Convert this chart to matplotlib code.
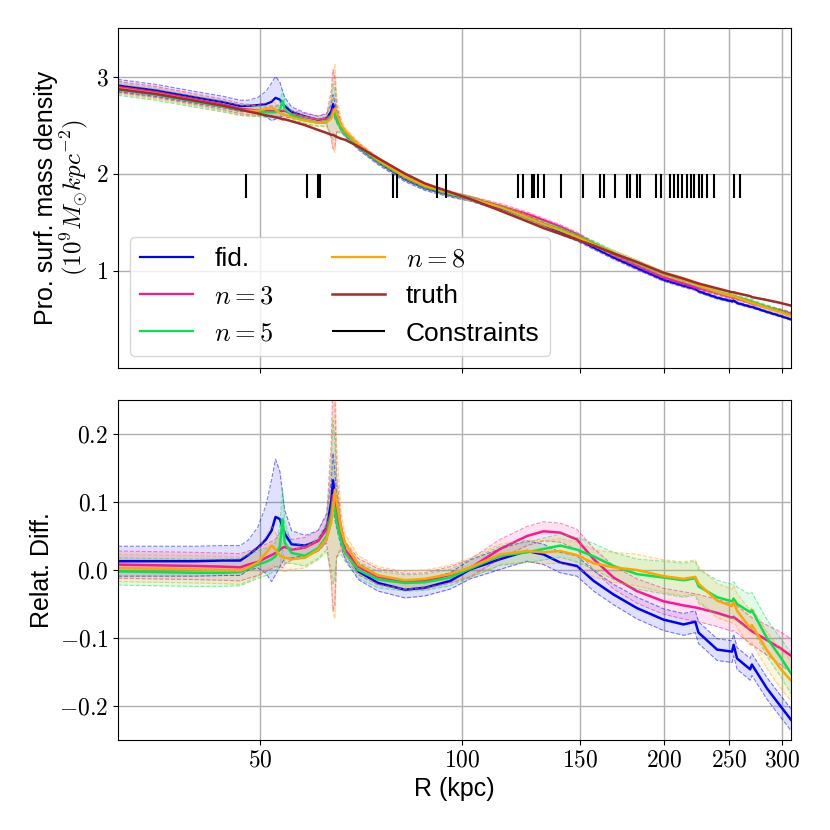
import numpy as np
import matplotlib
matplotlib.use("Agg")
import matplotlib.pyplot as plt
from matplotlib.ticker import FixedLocator, FixedFormatter, NullLocator

plt.rcParams['font.family'] = ['Liberation Sans', 'DejaVu Sans']
plt.rcParams['mathtext.fontset'] = 'cm'

# radii (kpc) where the curves are sampled
r = np.array([30.7, 35, 40, 44, 46.7, 48, 49.6, 51, 52, 52.7, 53.5, 54.0, 54.4, 55.7, 58.3,
              61.0, 62.8, 63.8, 64.2, 64.6, 65.0, 66.0, 66.9, 70.0, 74.9, 82.2, 88.0, 96.0,
              102.8, 113.9, 124.9, 132.2, 140.0, 148.2, 157.0, 168.1, 182.2, 199.6, 213.7,
              222.5, 225.0, 239.8, 252.4, 253.8, 256.8, 268.6, 270.2, 284.5, 298, 310])

# true projected surface density (1e9 Msun / kpc^2)
truth = np.array([2.87, 2.82, 2.75, 2.70, 2.66, 2.64, 2.62, 2.60, 2.59, 2.58, 2.57, 2.56, 2.56,
                  2.54, 2.50, 2.45, 2.42, 2.40, 2.40, 2.39, 2.38, 2.36, 2.35, 2.28, 2.16, 2.00,
                  1.90, 1.81, 1.74, 1.62, 1.51, 1.44, 1.38, 1.32, 1.26, 1.18, 1.09, 0.98, 0.92,
                  0.88, 0.87, 0.82, 0.78, 0.78, 0.77, 0.74, 0.73, 0.70, 0.67, 0.64])

# relative differences to truth
diff_fid = np.array([0.013, 0.013, 0.013, 0.014, 0.014, 0.022, 0.033, 0.045, 0.058, 0.078, 0.075,
                     0.062, 0.053, 0.038, 0.036, 0.043, 0.063, 0.100, 0.132, 0.110, 0.087, 0.050,
                     0.028, -0.002, -0.019, -0.029, -0.026, -0.016, 0.001, 0.016, 0.028, 0.023,
                     0.011, 0.006, -0.016, -0.036, -0.056, -0.073, -0.080, -0.076, -0.092, -0.117,
                     -0.120, -0.110, -0.130, -0.146, -0.139, -0.174, -0.200, -0.222])
diff_n3 = np.array([0.008, 0.007, 0.006, 0.005, 0.004, 0.008, 0.012, 0.018, 0.022, 0.025, 0.030,
                    0.033, 0.034, 0.030, 0.033, 0.043, 0.060, 0.085, 0.110, 0.100, 0.080, 0.050,
                    0.030, 0.005, -0.010, -0.017, -0.016, -0.007, 0.003, 0.031, 0.050, 0.057,
                    0.055, 0.045, 0.016, -0.011, -0.031, -0.046, -0.052, -0.055, -0.056, -0.063,
                    -0.070, -0.069, -0.073, -0.088, -0.090, -0.103, -0.115, -0.127])
diff_n5 = np.array([-0.002, -0.003, -0.004, -0.004, -0.003, 0.002, 0.008, 0.012, 0.016, 0.020,
                    0.035, 0.075, 0.040, 0.025, 0.021, 0.032, 0.050, 0.080, 0.100, 0.090, 0.070,
                    0.043, 0.025, 0.000, -0.014, -0.019, -0.018, -0.011, 0.002, 0.021, 0.026,
                    0.031, 0.036, 0.030, 0.020, 0.006, -0.006, -0.011, -0.015, -0.012, -0.024,
                    -0.040, -0.046, -0.042, -0.050, -0.062, -0.059, -0.100, -0.128, -0.154])
diff_n8 = np.array([0.003, 0.002, 0.001, 0.000, -0.001, 0.004, 0.011, 0.025, 0.036, 0.030, 0.021,
                    0.019, 0.018, 0.016, 0.018, 0.030, 0.046, 0.070, 0.090, 0.118, 0.100, 0.060,
                    0.040, 0.008, -0.008, -0.015, -0.013, -0.006, 0.004, 0.023, 0.028, 0.026,
                    0.028, 0.022, 0.010, 0.004, 0.000, -0.009, -0.013, -0.010, -0.020, -0.045,
                    -0.053, -0.047, -0.060, -0.085, -0.081, -0.118, -0.145, -0.164])

# half widths of the uncertainty bands
err_fid = np.array([0.022, 0.022, 0.022, 0.022, 0.022, 0.022, 0.030, 0.050, 0.075, 0.085, 0.070,
                    0.050, 0.035, 0.020, 0.015, 0.015, 0.020, 0.030, 0.040, 0.035, 0.025, 0.015,
                    0.012, 0.012, 0.012, 0.012, 0.012, 0.012, 0.014, 0.015, 0.015, 0.015, 0.015,
                    0.015, 0.015, 0.015, 0.016, 0.016, 0.016, 0.016, 0.016, 0.016, 0.016, 0.016,
                    0.016, 0.016, 0.016, 0.016, 0.016, 0.016])
err_n3 = np.array([0.020, 0.020, 0.020, 0.020, 0.020, 0.020, 0.020, 0.020, 0.020, 0.020, 0.025,
                   0.030, 0.025, 0.015, 0.015, 0.015, 0.020, 0.100, 0.170, 0.150, 0.060, 0.020,
                   0.012, 0.012, 0.012, 0.012, 0.012, 0.012, 0.013, 0.014, 0.014, 0.014, 0.014,
                   0.015, 0.016, 0.017, 0.018, 0.019, 0.020, 0.020, 0.020, 0.020, 0.020, 0.020,
                   0.020, 0.020, 0.020, 0.022, 0.024, 0.025])
err_n5 = np.array([0.020, 0.020, 0.020, 0.020, 0.020, 0.020, 0.020, 0.020, 0.020, 0.020, 0.030,
                   0.045, 0.030, 0.015, 0.015, 0.015, 0.020, 0.080, 0.120, 0.100, 0.050, 0.020,
                   0.012, 0.012, 0.012, 0.012, 0.012, 0.012, 0.013, 0.014, 0.015, 0.016, 0.017,
                   0.018, 0.019, 0.020, 0.022, 0.024, 0.025, 0.025, 0.025, 0.025, 0.025, 0.025,
                   0.025, 0.026, 0.026, 0.027, 0.028, 0.030])
err_n8 = np.array([0.020, 0.020, 0.020, 0.020, 0.020, 0.020, 0.020, 0.025, 0.030, 0.025, 0.020,
                   0.020, 0.020, 0.015, 0.015, 0.015, 0.020, 0.080, 0.150, 0.190, 0.080, 0.025,
                   0.013, 0.013, 0.013, 0.013, 0.013, 0.013, 0.014, 0.015, 0.016, 0.017, 0.018,
                   0.019, 0.020, 0.022, 0.023, 0.024, 0.025, 0.025, 0.025, 0.025, 0.025, 0.025,
                   0.025, 0.026, 0.026, 0.027, 0.028, 0.030])

# radii of the constraints
constraints = [47.6, 58.7, 60.9, 61.3, 79.0, 79.9, 91.7, 94.7, 121.3, 123.0, 127.0, 128.0,
               129.5, 132.2, 140.3, 151.6, 160.6, 162.8, 169.0, 176.0, 178.0, 182.2, 184.2,
               194.4, 197.8, 204.2, 206.5, 209.4, 212.6, 216.2, 219.2, 221.7, 225.0, 227.7,
               231.6, 237.5, 254.3, 259.6]

labels = ['fid.', '$n=3$', '$n=5$', '$n=8$']
colors = ['#0000ff', '#ff1493', '#00e650', '#ffa500']
diffs = [diff_fid, diff_n3, diff_n5, diff_n8]
errs = [err_fid, err_n3, err_n5, err_n8]

xticks = [50, 100, 150, 200, 250, 300]

fig = plt.figure(figsize=(8.3, 8.3), dpi=100)
ax1 = fig.add_axes([0.1422, 0.5566, 0.8108, 0.4097])
ax2 = fig.add_axes([0.1422, 0.1084, 0.8108, 0.4096], sharex=ax1)

for d, e, c, lab in zip(diffs, errs, colors, labels):
    # top: density
    y = truth * (1 + d)
    lo = truth * (1 + d - e)
    hi = truth * (1 + d + e)
    ax1.fill_between(r, lo, hi, color=c, alpha=0.12, lw=0)
    ax1.plot(r, lo, '--', color=c, lw=0.8, alpha=0.5)
    ax1.plot(r, hi, '--', color=c, lw=0.8, alpha=0.5)
    ax1.plot(r, y, color=c, lw=1.6, label=lab)
    # bottom: relative difference
    ax2.fill_between(r, d - e, d + e, color=c, alpha=0.12, lw=0)
    ax2.plot(r, d - e, '--', color=c, lw=0.8, alpha=0.5)
    ax2.plot(r, d + e, '--', color=c, lw=0.8, alpha=0.5)
    ax2.plot(r, d, color=c, lw=1.8)

ax1.plot(r, truth, color='#a52a2a', lw=1.8, label='truth')
ax1.vlines(constraints, 1.75, 2.0, color='black', lw=1.5, label='Constraints')

ax1.set_xscale('log')
ax1.set_xlim(30.7, 309)
ax1.set_ylim(0, 3.5)
ax2.set_ylim(-0.25, 0.25)

for ax in (ax1, ax2):
    ax.xaxis.set_major_locator(FixedLocator(xticks))
    ax.xaxis.set_minor_locator(NullLocator())
    ax.grid(True, color='#b0b0b0', lw=1)
    ax.set_axisbelow(True)
    ax.tick_params(labelsize=17)

ax2.xaxis.set_major_formatter(FixedFormatter(['$%d$' % t for t in xticks]))
plt.setp(ax1.get_xticklabels(), visible=False)

ax1.yaxis.set_major_locator(FixedLocator([1, 2, 3]))
ax1.yaxis.set_major_formatter(FixedFormatter(['$1$', '$2$', '$3$']))
yt2 = [-0.2, -0.1, 0.0, 0.1, 0.2]
ax2.yaxis.set_major_locator(FixedLocator(yt2))
ax2.yaxis.set_major_formatter(FixedFormatter(['$%.1f$' % v for v in yt2]))

ax1.set_ylabel('Pro. surf. mass density\n$(10^9M_{\\odot}kpc^{-2})$', fontsize=18, linespacing=1.0)
ax2.set_ylabel('Relat. Diff.', fontsize=18)
ax2.set_xlabel('R (kpc)', fontsize=18)
fig.align_ylabels([ax1, ax2])

ax1.legend(loc='lower left', ncol=2, fontsize=19, framealpha=0.8, columnspacing=2.2,
           borderaxespad=0.45)

fig.savefig('out.png', dpi=100)
